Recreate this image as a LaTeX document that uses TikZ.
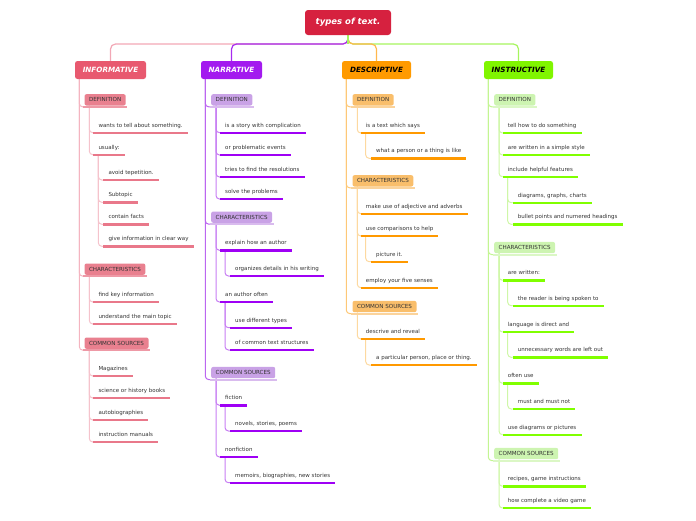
\documentclass[tikz,border=0pt]{standalone}
\usepackage{fontspec}
\setmainfont{DejaVu Sans}
\usetikzlibrary{backgrounds}
\definecolor{txt}{HTML}{333333}
\definecolor{rootc}{HTML}{D6213F}
\definecolor{infc}{HTML}{E8596F}
\definecolor{narc}{HTML}{A31AEF}
\definecolor{desc}{HTML}{FF9A00}
\definecolor{insc}{HTML}{80F500}
% leaf bars
\definecolor{ib}{HTML}{E9788A}
\definecolor{nb}{HTML}{9F00F5}
\definecolor{db}{HTML}{FF9900}
\definecolor{sb}{HTML}{80FF00}
% sub fills and bars
\definecolor{isf}{HTML}{E9808F}
\definecolor{isb}{HTML}{EE99A6}
\definecolor{nsf}{HTML}{C9A2E6}
\definecolor{nsb}{HTML}{D9BBEE}
\definecolor{dsf}{HTML}{F9BE6B}
\definecolor{dsb}{HTML}{FBD39B}
\definecolor{ssf}{HTML}{CDF4B1}
\definecolor{ssb}{HTML}{DBF7C5}
% connectors
\definecolor{rinf}{HTML}{F2A7B5}
\definecolor{rnar}{HTML}{A72BEF}
\definecolor{rdes}{HTML}{FFB84D}
\definecolor{rins}{HTML}{A6F55E}
\definecolor{tinf}{HTML}{F4B4C0}
\definecolor{tnar}{HTML}{BB66F0}
\definecolor{tdes}{HTML}{FDC877}
\definecolor{tins}{HTML}{C3F592}
\definecolor{linf}{HTML}{F5C3CC}
\definecolor{lnar}{HTML}{C77EF3}
\definecolor{ldes}{HTML}{FDD9A0}
\definecolor{lins}{HTML}{CFF7A8}

\newcommand\lf[5]{\node[leaf] (#1) at (#3,#4) {#5};
  \draw[lbar=#2] (#1.south west) -- (#1.south east);}
\newcommand\sbx[6]{\node[subbox, fill=#5] (#1) at (#2,#3) {#4};
  \draw[sbar=#6] ([xshift=-1pt,yshift=-1.2pt]#1.south west) -- ([xshift=1.5pt,yshift=-1.2pt]#1.south east);}
\newcommand\lc[3]{\draw[cn=#1] ([xshift=5pt]#2.south west) |- (#3.south west);}
\newcommand\tc[3]{\draw[cn=#1] ([xshift=4.5pt]#2.south west) |- ([xshift=-1pt,yshift=-1.2pt]#3.south west);}

\begin{document}
\begin{tikzpicture}[x=1pt,y=-1pt,
  every node/.style={inner sep=0pt},
  leaf/.style={anchor=south west, font=\fontsize{5.5}{6}\selectfont, text=txt, inner xsep=5pt, inner ysep=3.7pt, text height=3.9pt, text depth=1.5pt},
  subbox/.style={anchor=north west, rounded corners=2pt, minimum height=11.3pt, inner xsep=4.5pt, inner ysep=0pt, text height=4.1pt, text depth=0pt, font=\fontsize{5.6}{6}\selectfont, text=txt},
  topbox/.style={rounded corners=2.5pt, minimum height=18pt, font=\fontsize{7.2}{8}\selectfont\bfseries\itshape},
  lbar/.style={line width=2.4pt, draw=#1},
  sbar/.style={line width=2pt, draw=#1},
  cn/.style={draw=#1, line width=1pt, rounded corners=3.5pt},
  rc/.style={draw=#1, line width=1.2pt, rounded corners=5pt},
]
\useasboundingbox (0,0) rectangle (696,520);

\node[fill=rootc, rounded corners=3pt, minimum width=86pt, minimum height=25pt, text=white, font=\fontsize{8.5}{9}\selectfont\bfseries\itshape] (root) at (348,22.5) {types of text.};
\coordinate (hub) at (348,44);

\node[topbox, fill=infc, text=white, minimum width=71pt] (inf) at (110.5,70) {INFORMATIVE};
\node[topbox, fill=narc, text=white, minimum width=61pt] (nar) at (231.5,70) {NARRATIVE};
\node[topbox, fill=desc, text=black, minimum width=69pt] (des) at (376.5,70) {DESCRIPTIVE};
\node[topbox, fill=insc, text=black, minimum width=69pt] (ins) at (518.5,70) {INSTRUCTIVE};

% INFORMATIVE
\sbx{idef}{84.3}{94}{DEFINITION}{isf}{isb}
\lf{i1}{ib}{93.3}{132.7}{wants to tell about something.}
\lf{i2}{ib}{93.3}{154.7}{usually:}
\lf{i2a}{ib}{103.3}{180}{avoid tepetition.}
\lf{i2b}{ib}{103.3}{202.3}{Subtopic}
\lf{i2c}{ib}{103.3}{224.3}{contain facts}
\lf{i2d}{ib}{103.3}{246.3}{give information in clear way}
\sbx{ichr}{84.3}{263.3}{CHARACTERISTICS}{isf}{isb}
\lf{i3}{ib}{93.3}{302}{find key information}
\lf{i4}{ib}{93.3}{324}{understand the main topic}
\sbx{icom}{84.3}{337.3}{COMMON SOURCES}{isf}{isb}
\lf{i5}{ib}{93.3}{376}{Magazines}
\lf{i6}{ib}{93.3}{398}{science or history books}
\lf{i7}{ib}{93.3}{420}{autobiographies}
\lf{i8}{ib}{93.3}{442}{instruction manuals}

% NARRATIVE
\sbx{ndef}{211}{94}{DEFINITION}{nsf}{nsb}
\lf{n1}{nb}{220}{132.7}{is a story with complication}
\lf{n2}{nb}{220}{155}{or problematic events}
\lf{n3}{nb}{220}{177}{tries to find the resolutions}
\lf{n4}{nb}{220}{199}{solve the problems}
\sbx{nchr}{211}{211.3}{CHARACTERISTICS}{nsf}{nsb}
\lf{n5}{nb}{220}{250.3}{explain how an author}
\lf{n5a}{nb}{230}{276}{organizes details in his writing}
\lf{n6}{nb}{220}{302}{an author often}
\lf{n6a}{nb}{230}{327.7}{use different types}
\lf{n6b}{nb}{230}{350}{of common text structures}
\sbx{ncom}{211}{366.7}{COMMON SOURCES}{nsf}{nsb}
\lf{n7}{nb}{220}{405.3}{fiction}
\lf{n7a}{nb}{230}{431}{novels, stories, poems}
\lf{n8}{nb}{220}{457}{nonfiction}
\lf{n8a}{nb}{230}{482.7}{memoirs, biographies, new stories}

% DESCRIPTIVE
\sbx{ddef}{352.3}{94}{DEFINITION}{dsf}{dsb}
\lf{d1}{db}{360.7}{133}{is a text which says}
\lf{d1a}{db}{371}{158.3}{what a person or a thing is like}
\sbx{dchr}{352.3}{175}{CHARACTERISTICS}{dsf}{dsb}
\lf{d2}{db}{360.7}{213.7}{make use of adjective and adverbs}
\lf{d3}{db}{360.7}{236}{use comparisons to help}
\lf{d3a}{db}{371}{261.7}{picture it.}
\lf{d4}{db}{360.7}{287.7}{employ your five senses}
\sbx{dcom}{352.3}{300.7}{COMMON SOURCES}{dsf}{dsb}
\lf{d5}{db}{360.7}{339}{descrive and reveal}
\lf{d5a}{db}{371}{365}{a particular person, place or thing.}

% INSTRUCTIVE
\sbx{sdef}{494}{94}{DEFINITION}{ssf}{ssb}
\lf{s1}{sb}{502.7}{133}{tell how to do something}
\lf{s2}{sb}{502.7}{155}{are written in a simple style}
\lf{s3}{sb}{502.7}{176.7}{include helpful features}
\lf{s3a}{sb}{512.7}{202.7}{diagrams, graphs, charts}
\lf{s3b}{sb}{512.7}{224.3}{bullet points and numered headings}
\sbx{schr}{494}{241.7}{CHARACTERISTICS}{ssf}{ssb}
\lf{s4}{sb}{502.7}{280.3}{are written:}
\lf{s4a}{sb}{512.7}{305.7}{the reader is being spoken to}
\lf{s5}{sb}{502.7}{332}{language is direct and}
\lf{s5a}{sb}{512.7}{357.3}{unnecessary words are left out}
\lf{s6}{sb}{502.7}{383.3}{often use}
\lf{s6a}{sb}{512.7}{409}{must and must not}
\lf{s7}{sb}{502.7}{434.7}{use diagrams or pictures}
\sbx{scom}{494}{447.7}{COMMON SOURCES}{ssf}{ssb}
\lf{s8}{sb}{502.7}{486.3}{recipes, game instructions}
\lf{s9}{sb}{502.7}{508}{how complete a video game}

\begin{pgfonlayer}{background}
% root connectors
\draw[rc=rinf] (root.south) -- (hub) -| (inf.north);
\draw[rc=rnar] (root.south) -- (hub) -| (nar.north);
\draw[rc=rins] (root.south) -- (hub) -| (ins.north);
\draw[rc=rdes] (root.south) -- (hub) -| (des.north);
\draw[rc=rins] (root.south) -- (hub);
% trunks
\tc{tinf}{inf}{idef} \tc{tinf}{inf}{ichr} \tc{tinf}{inf}{icom}
\tc{tnar}{nar}{ndef} \tc{tnar}{nar}{nchr} \tc{tnar}{nar}{ncom}
\tc{tdes}{des}{ddef} \tc{tdes}{des}{dchr} \tc{tdes}{des}{dcom}
\tc{tins}{ins}{sdef} \tc{tins}{ins}{schr} \tc{tins}{ins}{scom}
% informative leaves
\lc{linf}{idef}{i1} \lc{linf}{idef}{i2}
\lc{linf}{i2}{i2a} \lc{linf}{i2}{i2b} \lc{linf}{i2}{i2c} \lc{linf}{i2}{i2d}
\lc{linf}{ichr}{i3} \lc{linf}{ichr}{i4}
\lc{linf}{icom}{i5} \lc{linf}{icom}{i6} \lc{linf}{icom}{i7} \lc{linf}{icom}{i8}
% narrative leaves
\lc{lnar}{ndef}{n1} \lc{lnar}{ndef}{n2} \lc{lnar}{ndef}{n3} \lc{lnar}{ndef}{n4}
\lc{lnar}{nchr}{n5} \lc{lnar}{n5}{n5a} \lc{lnar}{nchr}{n6}
\lc{lnar}{n6}{n6a} \lc{lnar}{n6}{n6b}
\lc{lnar}{ncom}{n7} \lc{lnar}{n7}{n7a} \lc{lnar}{ncom}{n8} \lc{lnar}{n8}{n8a}
% descriptive leaves
\lc{ldes}{ddef}{d1} \lc{ldes}{d1}{d1a}
\lc{ldes}{dchr}{d2} \lc{ldes}{dchr}{d3} \lc{ldes}{d3}{d3a} \lc{ldes}{dchr}{d4}
\lc{ldes}{dcom}{d5} \lc{ldes}{d5}{d5a}
% instructive leaves
\lc{lins}{sdef}{s1} \lc{lins}{sdef}{s2} \lc{lins}{sdef}{s3}
\lc{lins}{s3}{s3a} \lc{lins}{s3}{s3b}
\lc{lins}{schr}{s4} \lc{lins}{s4}{s4a} \lc{lins}{schr}{s5} \lc{lins}{s5}{s5a}
\lc{lins}{schr}{s6} \lc{lins}{s6}{s6a} \lc{lins}{schr}{s7}
\lc{lins}{scom}{s8} \lc{lins}{scom}{s9}
\end{pgfonlayer}
\end{tikzpicture}
\end{document}
